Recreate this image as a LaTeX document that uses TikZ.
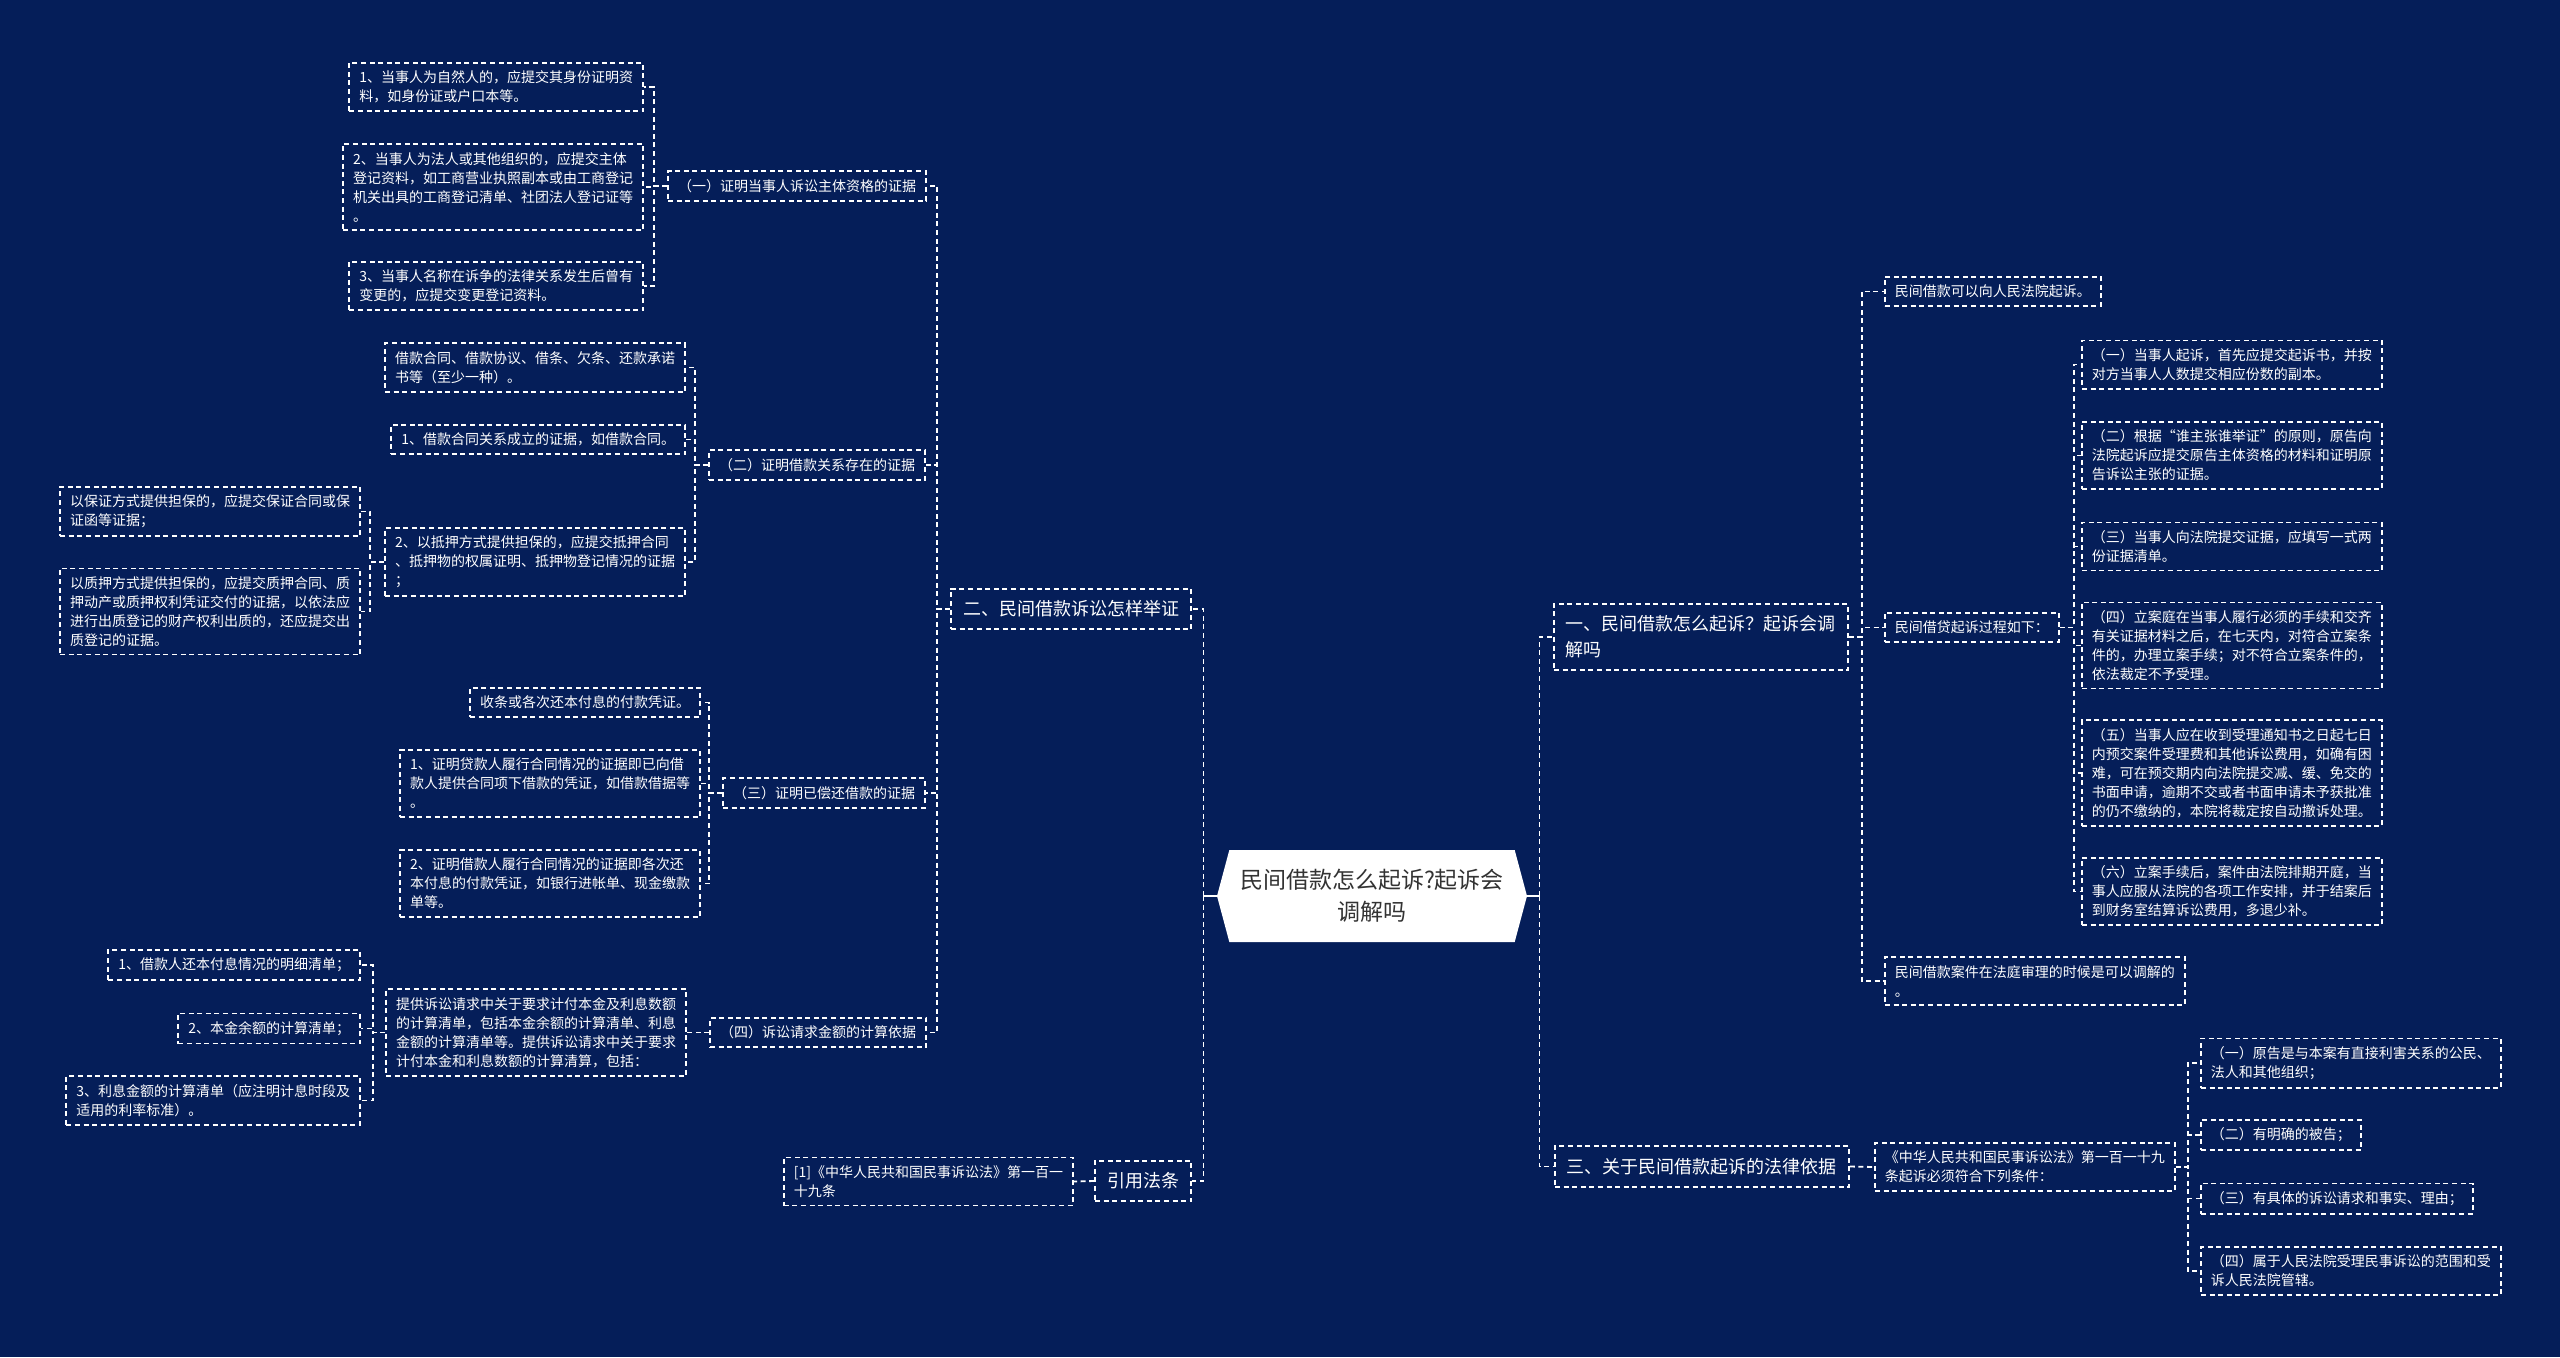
\documentclass[tikz,border=0pt]{standalone}
\usepackage{fontspec}
\newfontfamily\cjk{Noto Sans CJK SC}
\usetikzlibrary{shapes.symbols}
\definecolor{navy}{RGB}{5,30,89}
\definecolor{roottext}{RGB}{51,51,51}

\begin{document}
\begin{tikzpicture}
[every node/.style={inner sep=0pt},
 leaf/.style={draw=white, line width=0.9pt, dash pattern=on 2.5pt off 1.8pt, text=white, align=left, inner xsep=5pt, inner ysep=4pt, font=\cjk\fontsize{7pt}{9.5pt}\selectfont},
 branch/.style={leaf, inner xsep=6pt, inner ysep=6pt, font=\cjk\fontsize{9pt}{13pt}\selectfont},
 link/.style={draw=white, line width=0.9pt, dash pattern=on 2.5pt off 1.8pt}]
\fill [navy] (0pt, 0pt) rectangle (1280pt, -678.5pt);
\useasboundingbox (0pt, 0pt) rectangle (1280pt, -678.5pt);
\node (1) [signal, signal to=west and east, signal pointer angle=150, fill=white, minimum width=155pt, minimum height=46pt, align=center, text=roottext, font=\cjk\fontsize{11.5pt}{16pt}\selectfont] at (686pt, -448pt) {民间借款怎么起诉?起诉会\\调解吗};
% left half
\node (2) [branch, anchor=east] at (596pt, -304.5pt) {二、民间借款诉讼怎样举证};
\node (3) [branch, anchor=east] at (596pt, -590.5pt) {引用法条};
\node (4) [leaf, anchor=east] at (463.5pt, -93pt) {（一）证明当事人诉讼主体资格的证据};
\node (5) [leaf, anchor=east] at (322pt, -43.5pt) {1、当事人为自然人的，应提交其身份证明资\\料，如身份证或户口本等。};
\node (6) [leaf, anchor=east] at (322pt, -93.5pt) {2、当事人为法人或其他组织的，应提交主体\\登记资料，如工商营业执照副本或由工商登记\\机关出具的工商登记清单、社团法人登记证等\\。};
\node (7) [leaf, anchor=east] at (322pt, -143pt) {3、当事人名称在诉争的法律关系发生后曾有\\变更的，应提交变更登记资料。};
\node (8) [leaf, anchor=east] at (463pt, -232.5pt) {（二）证明借款关系存在的证据};
\node (9) [leaf, anchor=east] at (343pt, -183.75pt) {借款合同、借款协议、借条、欠条、还款承诺\\书等（至少一种）。};
\node (10) [leaf, anchor=east] at (343pt, -219.75pt) {1、借款合同关系成立的证据，如借款合同。};
\node (11) [leaf, anchor=east] at (343pt, -281pt) {2、以抵押方式提供担保的，应提交抵押合同\\、抵押物的权属证明、抵押物登记情况的证据\\；};
\node (12) [leaf, anchor=east] at (180.5pt, -255.75pt) {以保证方式提供担保的，应提交保证合同或保\\证函等证据；};
\node (13) [leaf, anchor=east] at (180.5pt, -305.75pt) {以质押方式提供担保的，应提交质押合同、质\\押动产或质押权利凭证交付的证据，以依法应\\进行出质登记的财产权利出质的，还应提交出\\质登记的证据。};
\node (14) [leaf, anchor=east] at (463pt, -396.5pt) {（三）证明已偿还借款的证据};
\node (15) [leaf, anchor=east] at (350.5pt, -351.25pt) {收条或各次还本付息的付款凭证。};
\node (16) [leaf, anchor=east] at (350.5pt, -391.75pt) {1、证明贷款人履行合同情况的证据即已向借\\款人提供合同项下借款的凭证，如借款借据等\\。};
\node (17) [leaf, anchor=east] at (350.5pt, -441.75pt) {2、证明借款人履行合同情况的证据即各次还\\本付息的付款凭证，如银行进帐单、现金缴款\\单等。};
\node (18) [leaf, anchor=east] at (463.5pt, -516.25pt) {（四）诉讼请求金额的计算依据};
\node (19) [leaf, anchor=east] at (343.5pt, -516.25pt) {提供诉讼请求中关于要求计付本金及利息数额\\的计算清单，包括本金余额的计算清单、利息\\金额的计算清单等。提供诉讼请求中关于要求\\计付本金和利息数额的计算清算，包括：};
\node (20) [leaf, anchor=east] at (180.5pt, -482.5pt) {1、借款人还本付息情况的明细清单；};
\node (21) [leaf, anchor=east] at (180.5pt, -514.25pt) {2、本金余额的计算清单；};
\node (22) [leaf, anchor=east] at (180.5pt, -550.25pt) {3、利息金额的计算清单（应注明计息时段及\\适用的利率标准）。};
\node (23) [leaf, anchor=east] at (537pt, -590.75pt) {[1]《中华人民共和国民事诉讼法》第一百一\\十九条};
% right half
\node (24) [branch, anchor=west] at (776.5pt, -318.5pt) {一、民间借款怎么起诉？起诉会调\\解吗};
\node (25) [branch, anchor=west] at (777pt, -583.25pt) {三、关于民间借款起诉的法律依据};
\node (26) [leaf, anchor=west] at (942pt, -145.75pt) {民间借款可以向人民法院起诉。};
\node (27) [leaf, anchor=west] at (942pt, -313.75pt) {民间借贷起诉过程如下：};
\node (28) [leaf, anchor=west] at (942pt, -490.5pt) {民间借款案件在法庭审理的时候是可以调解的\\。};
\node (29) [leaf, anchor=west] at (1040.5pt, -182.25pt) {（一）当事人起诉，首先应提交起诉书，并按\\对方当事人人数提交相应份数的副本。};
\node (30) [leaf, anchor=west] at (1040.5pt, -227.75pt) {（二）根据“谁主张谁举证”的原则，原告向\\法院起诉应提交原告主体资格的材料和证明原\\告诉讼主张的证据。};
\node (31) [leaf, anchor=west] at (1040.5pt, -273.25pt) {（三）当事人向法院提交证据，应填写一式两\\份证据清单。};
\node (32) [leaf, anchor=west] at (1040.5pt, -322.75pt) {（四）立案庭在当事人履行必须的手续和交齐\\有关证据材料之后，在七天内，对符合立案条\\件的，办理立案手续；对不符合立案条件的，\\依法裁定不予受理。};
\node (33) [leaf, anchor=west] at (1040.5pt, -386.5pt) {（五）当事人应在收到受理通知书之日起七日\\内预交案件受理费和其他诉讼费用，如确有困\\难，可在预交期内向法院提交减、缓、免交的\\书面申请，逾期不交或者书面申请未予获批准\\的仍不缴纳的，本院将裁定按自动撤诉处理。};
\node (34) [leaf, anchor=west] at (1040.5pt, -445.75pt) {（六）立案手续后，案件由法院排期开庭，当\\事人应服从法院的各项工作安排，并于结案后\\到财务室结算诉讼费用，多退少补。};
\node (35) [leaf, anchor=west] at (937pt, -583.5pt) {《中华人民共和国民事诉讼法》第一百一十九\\条起诉必须符合下列条件：};
\node (36) [leaf, anchor=west] at (1100pt, -531.5pt) {（一）原告是与本案有直接利害关系的公民、\\法人和其他组织；};
\node (37) [leaf, anchor=west] at (1100pt, -567.5pt) {（二）有明确的被告；};
\node (38) [leaf, anchor=west] at (1100pt, -599.25pt) {（三）有具体的诉讼请求和事实、理由；};
\node (39) [leaf, anchor=west] at (1100pt, -635.5pt) {（四）属于人民法院受理民事诉讼的范围和受\\诉人民法院管辖。};
% connectors
\draw [white, line width=1pt] (1.west) -- ++(-6.5pt,0);
\draw [white, line width=1pt] (1.east) -- ++(6pt,0);
\draw [link] (1.west) ++(-6.5pt,0) |- (2.east);
\draw [link] (1.west) ++(-6.5pt,0) |- (3.east);
\draw [link] (1.east) ++(6pt,0) |- (24.west);
\draw [link] (1.east) ++(6pt,0) |- (25.west);
\draw [link] (2.west) -- ++(-6.5pt,0) |- (4.east);
\draw [link] (2.west) -- ++(-6.5pt,0) |- (8.east);
\draw [link] (2.west) -- ++(-6.5pt,0) |- (14.east);
\draw [link] (2.west) -- ++(-6.5pt,0) |- (18.east);
\draw [link] (3.west) -- (23.east);
\draw [link] (4.west) -- ++(-6.5pt,0) |- (5.east);
\draw [link] (4.west) -- ++(-6.5pt,0) |- (6.east);
\draw [link] (4.west) -- ++(-6.5pt,0) |- (7.east);
\draw [link] (8.west) -- ++(-6.5pt,0) |- (9.east);
\draw [link] (8.west) -- ++(-6.5pt,0) |- (10.east);
\draw [link] (8.west) -- ++(-6.5pt,0) |- (11.east);
\draw [link] (11.west) -- ++(-7pt,0) |- (12.east);
\draw [link] (11.west) -- ++(-7pt,0) |- (13.east);
\draw [link] (14.west) -- ++(-6.5pt,0) |- (15.east);
\draw [link] (14.west) -- ++(-6.5pt,0) |- (16.east);
\draw [link] (14.west) -- ++(-6.5pt,0) |- (17.east);
\draw [link] (18.west) -- (19.east);
\draw [link] (19.west) -- ++(-6pt,0) |- (20.east);
\draw [link] (19.west) -- ++(-6pt,0) |- (21.east);
\draw [link] (19.west) -- ++(-6pt,0) |- (22.east);
\draw [link] (24.east) -- ++(6.5pt,0) |- (26.west);
\draw [link] (24.east) -- ++(6.5pt,0) |- (27.west);
\draw [link] (24.east) -- ++(6.5pt,0) |- (28.west);
\draw [link] (27.east) -- ++(7pt,0) |- (29.west);
\draw [link] (27.east) -- ++(7pt,0) |- (30.west);
\draw [link] (27.east) -- ++(7pt,0) |- (31.west);
\draw [link] (27.east) -- ++(7pt,0) |- (32.west);
\draw [link] (27.east) -- ++(7pt,0) |- (33.west);
\draw [link] (27.east) -- ++(7pt,0) |- (34.west);
\draw [link] (25.east) -- (35.west);
\draw [link] (35.east) -- ++(6pt,0) |- (36.west);
\draw [link] (35.east) -- ++(6pt,0) |- (37.west);
\draw [link] (35.east) -- ++(6pt,0) |- (38.west);
\draw [link] (35.east) -- ++(6pt,0) |- (39.west);
\end{tikzpicture}
\end{document}
